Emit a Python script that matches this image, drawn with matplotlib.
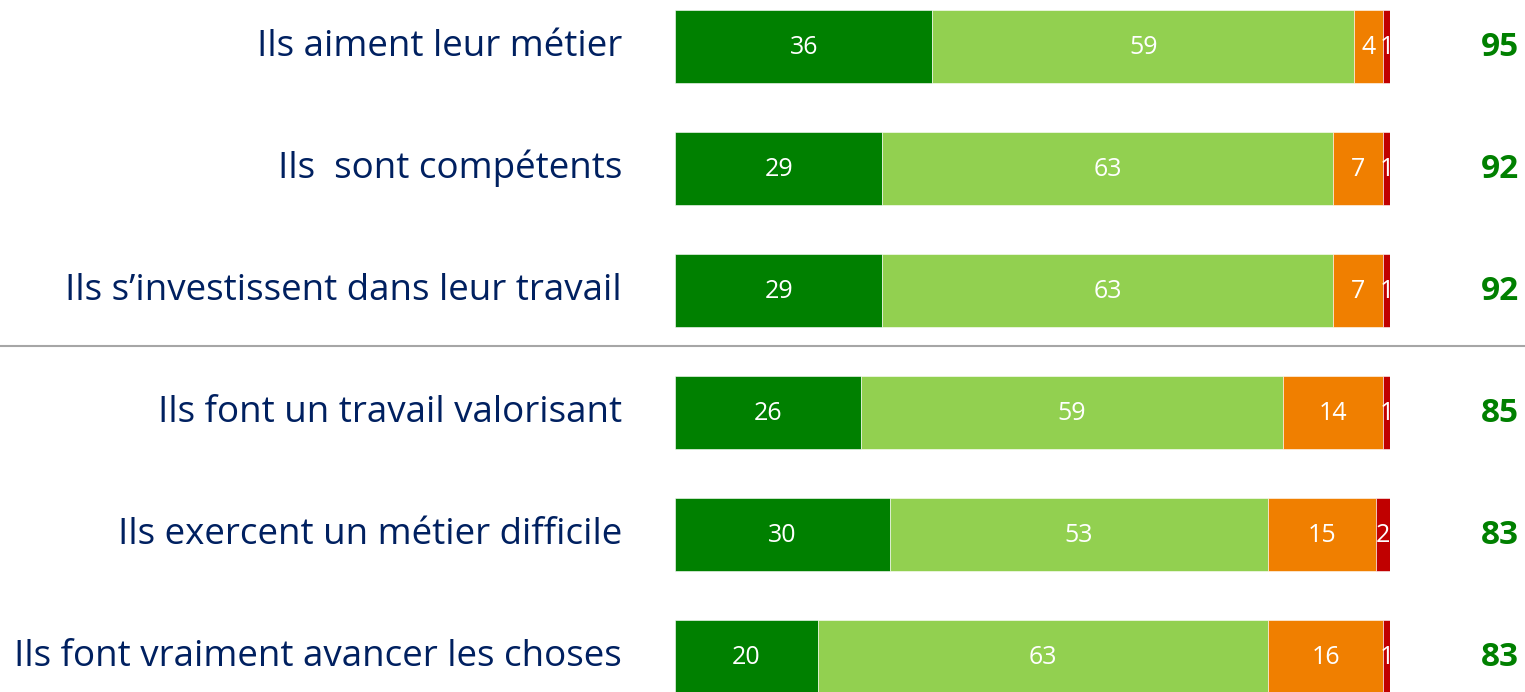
import matplotlib.pyplot as plt
from matplotlib.lines import Line2D

# --- Data ---
CATEGORIES = [
    "Ils aiment leur métier",
    "Ils  sont compétents",
    "Ils s\u2019investissent dans leur travail",
    "Ils font un travail valorisant",
    "Ils exercent un métier difficile",
    "Ils font vraiment avancer les choses",
]
TRES = [36, 29, 29, 26, 30, 20]
PLUTOT = [59, 63, 63, 59, 53, 63]
PLUTOT_PAS = [4, 7, 7, 14, 15, 16]
PAS_DU_TOUT = [1, 1, 1, 1, 2, 1]
TOTAL = [95, 92, 92, 85, 83, 83]

COLORS = ["#008000", "#92D050", "#F07F00", "#C00000"]
NAVY = "#002060"

plt.rcParams["font.family"] = ["Open Sans", "DejaVu Sans"]


def main():
    W, H = 1525, 692
    fig = plt.figure(figsize=(W / 100, H / 100), dpi=100)
    x0, x1 = 675, 1390
    ax = fig.add_axes([x0 / W, 0, (x1 - x0) / W, 1])

    row_h = 122
    first_c = 46.5
    ax.set_ylim((H - first_c) / row_h, -first_c / row_h)
    ax.set_xlim(0, 100)
    ax.axis("off")

    series = [TRES, PLUTOT, PLUTOT_PAS, PAS_DU_TOUT]
    ys = list(range(len(CATEGORIES)))
    left = [0] * len(CATEGORIES)
    for vals, col in zip(series, COLORS):
        ax.barh(ys, vals, left=left, height=0.605, color=col,
                edgecolor="white", linewidth=0.4)
        for y, v, l in zip(ys, vals, left):
            ax.text(l + v / 2, y + 0.01, str(v), ha="center", va="center",
                    color="white", fontsize=18, clip_on=False)
        left = [l + v for l, v in zip(left, vals)]

    for y, cat, tot in zip(ys, CATEGORIES, TOTAL):
        ax.text(-7.4, y, cat, ha="right", va="center", color=NAVY,
                fontsize=26.5, clip_on=False)
        ax.text(115.4, y + 0.01, str(tot), ha="center", va="center",
                color="#008000", fontsize=24, fontweight="bold",
                clip_on=False)

    fig.add_artist(Line2D([0, 1], [1 - 346 / H, 1 - 346 / H],
                          color="#A6A6A6", linewidth=1.5))

    fig.savefig("out.png", dpi=100)


if __name__ == "__main__":
    main()
